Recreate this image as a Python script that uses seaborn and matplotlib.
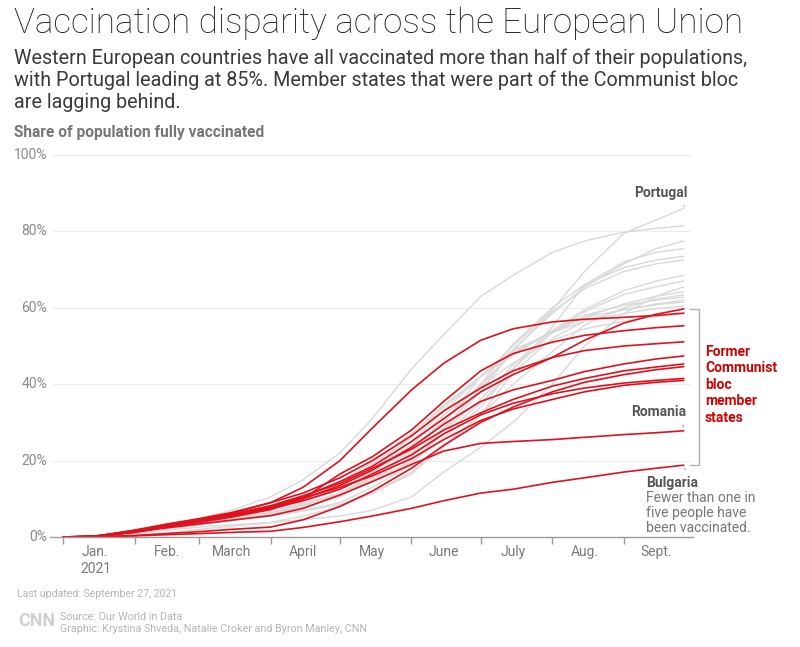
import pandas as pd
import seaborn as sns
import matplotlib.pyplot as plt
import matplotlib.dates as mdates
import matplotlib.ticker as mtick
import matplotlib.transforms as mtransforms
from matplotlib.lines import Line2D

W, H = 800, 647

# sample dates (share of population fully vaccinated, %)
dates = ["2021-01-01", "2021-01-15", "2021-02-01", "2021-02-15", "2021-03-01",
         "2021-03-15", "2021-04-01", "2021-04-15", "2021-05-01", "2021-05-15",
         "2021-06-01", "2021-06-15", "2021-07-01", "2021-07-15", "2021-08-01",
         "2021-08-15", "2021-09-01", "2021-09-15", "2021-09-27"]

# former Communist bloc member states
lithuania = [0, 0.1, 1.5, 3.0, 4.3, 5.8, 8.0, 10.5, 14.5, 18.5, 25.0, 31.0, 38.0, 42.5, 47.0, 51.5, 56.0, 58.3, 59.7]
hungary = [0, 0.2, 1.6, 3.2, 4.6, 6.2, 9.0, 13.0, 20.0, 28.5, 38.5, 45.5, 51.5, 54.5, 56.3, 57.0, 57.5, 58.0, 58.6]
czechia = [0, 0.1, 1.3, 2.6, 3.8, 5.2, 7.2, 10.0, 16.5, 21.0, 28.0, 35.5, 43.5, 48.0, 51.0, 52.8, 54.0, 54.8, 55.3]
estonia = [0, 0.2, 1.8, 3.4, 4.8, 6.4, 9.0, 11.5, 15.5, 20.0, 26.5, 33.0, 39.0, 43.5, 47.0, 48.8, 50.0, 50.6, 51.1]
poland = [0, 0.1, 1.2, 2.6, 4.0, 5.6, 7.5, 10.0, 13.5, 17.5, 23.5, 29.5, 35.5, 38.5, 41.0, 43.3, 45.3, 46.6, 47.4]
slovenia = [0, 0.2, 1.7, 3.1, 4.6, 6.0, 8.2, 10.8, 14.0, 18.0, 23.0, 28.0, 32.5, 36.0, 39.5, 41.5, 43.5, 44.5, 45.3]
latvia = [0, 0, 0.4, 0.9, 1.4, 2.0, 2.6, 4.5, 8.0, 12.0, 18.0, 24.0, 30.0, 34.0, 38.0, 40.5, 42.5, 43.8, 44.6]
croatia = [0, 0.1, 1.3, 2.7, 4.1, 5.5, 7.4, 9.5, 12.5, 16.5, 21.5, 27.0, 32.0, 35.0, 37.5, 39.0, 40.3, 41.0, 41.5]
slovakia = [0, 0.1, 1.4, 2.9, 4.3, 5.8, 7.8, 10.2, 13.0, 16.0, 20.5, 25.5, 30.5, 33.5, 36.0, 38.0, 39.7, 40.5, 41.0]
romania = [0, 0.3, 1.4, 2.4, 3.4, 4.4, 5.6, 7.5, 11.0, 14.5, 19.0, 22.5, 24.5, 25.0, 25.5, 26.1, 26.8, 27.3, 27.8]
bulgaria = [0, 0, 0.3, 0.6, 0.9, 1.2, 1.5, 2.5, 4.0, 5.5, 7.5, 9.5, 11.5, 12.5, 14.3, 15.5, 17.0, 18.0, 18.8]

# other EU member states
portugal = [0, 0.1, 1.5, 2.8, 4.2, 5.5, 7.5, 9.5, 13.0, 17.0, 23.0, 30.0, 42.0, 50.0, 59.5, 69.5, 79.5, 83.0, 86.0]
malta = [0, 0.3, 1.5, 3.2, 4.8, 7.0, 10.5, 15.0, 22.0, 31.0, 44.0, 53.0, 63.0, 68.5, 74.5, 77.5, 79.8, 80.8, 81.5]
spain = [0, 0.1, 1.2, 2.2, 3.5, 4.8, 6.5, 8.5, 11.0, 15.0, 21.0, 28.5, 39.0, 49.0, 58.5, 65.5, 71.5, 75.5, 77.5]
denmark = [0, 0.1, 1.5, 2.8, 4.0, 5.3, 6.8, 8.5, 11.0, 14.5, 20.0, 27.0, 35.0, 44.0, 55.0, 66.0, 72.0, 74.5, 75.5]
ireland = [0, 0.1, 1.0, 2.2, 3.6, 4.8, 6.0, 7.8, 10.5, 15.0, 22.0, 30.0, 40.0, 50.5, 60.0, 66.0, 70.5, 72.5, 73.5]
belgium = [0, 0, 0.8, 2.0, 3.2, 4.3, 5.5, 7.0, 9.0, 13.0, 19.0, 28.0, 38.0, 49.0, 59.0, 65.0, 69.5, 71.5, 72.5]
italy = [0, 0.1, 1.4, 2.6, 3.6, 4.6, 6.2, 8.5, 11.5, 15.5, 21.5, 28.0, 36.0, 45.0, 54.0, 59.5, 64.5, 67.0, 68.5]
france = [0, 0.1, 1.0, 2.2, 3.4, 4.4, 6.0, 8.2, 11.5, 15.0, 19.5, 26.0, 34.0, 44.0, 53.5, 59.0, 63.5, 65.5, 67.0]
finland = [0, 0, 0.8, 1.8, 2.6, 3.2, 3.8, 4.5, 5.5, 7.0, 10.5, 17.0, 23.5, 30.0, 40.0, 50.0, 58.5, 63.0, 65.5]
germany = [0, 0.1, 1.6, 3.0, 4.0, 5.0, 6.5, 9.0, 13.0, 19.0, 26.0, 34.0, 42.0, 48.5, 53.5, 57.5, 61.0, 63.0, 64.2]
sweden = [0, 0.1, 1.2, 2.8, 3.8, 4.6, 5.5, 6.8, 8.5, 11.5, 16.5, 24.0, 32.0, 40.0, 48.5, 55.5, 60.0, 62.3, 63.4]
luxembourg = [0, 0.1, 1.0, 2.4, 3.8, 5.0, 6.5, 8.5, 11.5, 16.0, 22.5, 30.5, 40.0, 48.0, 54.0, 58.0, 60.7, 62.0, 62.8]
netherlands = [0, 0, 0.3, 1.0, 2.0, 2.8, 3.8, 5.5, 8.0, 11.5, 17.0, 23.5, 32.0, 43.0, 52.0, 56.5, 59.5, 61.0, 62.0]
austria = [0, 0.1, 1.3, 2.6, 3.8, 5.0, 6.6, 9.0, 12.5, 17.5, 25.0, 33.0, 42.0, 49.0, 53.5, 56.5, 58.5, 59.8, 60.5]
cyprus = [0, 0.2, 1.5, 2.8, 4.0, 5.3, 7.5, 10.5, 14.5, 19.5, 27.0, 34.5, 42.0, 47.5, 54.0, 57.5, 59.5, 60.8, 61.5]
greece = [0, 0.2, 1.8, 3.2, 4.4, 5.6, 7.2, 9.5, 13.0, 17.5, 24.0, 32.0, 39.5, 45.5, 51.5, 54.5, 56.5, 57.7, 58.5]

former_bloc = {"Lithuania": lithuania, "Hungary": hungary, "Czechia": czechia,
               "Estonia": estonia, "Poland": poland, "Slovenia": slovenia,
               "Latvia": latvia, "Croatia": croatia, "Slovakia": slovakia,
               "Romania": romania, "Bulgaria": bulgaria}
others = {"Portugal": portugal, "Malta": malta, "Spain": spain, "Denmark": denmark,
          "Ireland": ireland, "Belgium": belgium, "Italy": italy, "France": france,
          "Finland": finland, "Germany": germany, "Sweden": sweden,
          "Luxembourg": luxembourg, "Netherlands": netherlands, "Austria": austria,
          "Cyprus": cyprus, "Greece": greece}

month_labels = ["Jan.\n2021", "Feb.", "March", "April", "May", "June", "July", "Aug.", "Sept."]
y_ticks = [0, 20, 40, 60, 80, 100]

rows = []
for group, table in (("other", others), ("former", former_bloc)):
    for country, values in table.items():
        for d, v in zip(dates, values):
            rows.append((pd.Timestamp(d), v, country, group))
df = pd.DataFrame(rows, columns=["date", "share", "country", "group"])

sns.set_theme(style="white")
plt.rcParams["font.family"] = ["Roboto", "DejaVu Sans"]

fig = plt.figure(figsize=(W / 100, H / 100), dpi=100)
ax = fig.add_axes([50 / W, 1 - 537 / H, 643 / W, 382 / H])

RED = "#e2101c"
sns.lineplot(data=df[df.group == "other"], x="date", y="share", units="country",
             estimator=None, color="#d9d9d9", lw=1.0, ax=ax, legend=False)
sns.lineplot(data=df[df.group == "former"], x="date", y="share", units="country",
             estimator=None, color=RED, lw=1.2, ax=ax, legend=False)
for ln in ax.lines:
    ln.set_clip_on(False)

ax.set_xlim(pd.Timestamp("2020-12-26 08:00"), pd.Timestamp("2021-10-01"))
ax.set_ylim(0, 100)
ax.set_xlabel("")
ax.set_ylabel("")
ax.set_yticks([])
for side in ("top", "right", "left"):
    ax.spines[side].set_visible(False)
ax.spines["bottom"].set_color("#9a9a9a")
ax.spines["bottom"].set_linewidth(1.0)

ax.xaxis.set_major_locator(mdates.MonthLocator(bymonth=range(1, 10)))
ax.xaxis.set_major_formatter(mtick.NullFormatter())
ax.xaxis.set_minor_locator(mdates.MonthLocator(bymonth=range(1, 10), bymonthday=15))
ax.xaxis.set_minor_formatter(mtick.FuncFormatter(
    lambda x, pos: month_labels[mdates.num2date(x).month - 1]))
ax.tick_params(axis="x", which="major", bottom=True, length=5, width=1,
               color="#9a9a9a", direction="out")
ax.tick_params(axis="x", which="minor", bottom=True, length=0, pad=6,
               labelsize=10, labelcolor="#7a7a7a")

trans = mtransforms.blended_transform_factory(fig.transFigure, ax.transData)
for v in y_ticks:
    if v > 0:
        ax.axhline(v, xmin=3 / 643, xmax=640 / 643, color="#ededed", lw=0.8, zorder=0)
    ax.text(47 / W, v, f"{v}%", transform=trans, ha="right", va="center",
            color="#8a8a8a", fontsize=10)

# annotations
end = pd.Timestamp(dates[-1])
arrow = dict(arrowstyle="-", color="#aaaaaa", lw=0.8,
             connectionstyle="arc3,rad=-0.5", shrinkA=2, shrinkB=1)
ax.annotate("Portugal", xy=(end, portugal[-1] + 0.5), xytext=(661, H - 193),
            textcoords="figure pixels", ha="center", va="center", fontsize=10,
            fontweight="bold", color="#555555", arrowprops=arrow)
ax.annotate("Romania", xy=(end, romania[-1] + 0.5), xytext=(659, H - 412),
            textcoords="figure pixels", ha="center", va="center", fontsize=10,
            fontweight="bold", color="#555555", arrowprops=arrow)
ax.annotate("Bulgaria", xy=(end, bulgaria[-1] - 0.5), xytext=(646, H - 483),
            textcoords="figure pixels", ha="left", va="center", fontsize=10,
            fontweight="bold", color="#555555",
            arrowprops=dict(arrowstyle="-", color="#aaaaaa", lw=0.8,
                            connectionstyle="arc3,rad=0.5", shrinkA=2, shrinkB=1,
                            relpos=(0.7, 1.0)))
fig.text(646 / W, 1 - 491 / H, "Fewer than one in\nfive people have\nbeen vaccinated.",
         ha="left", va="top", fontsize=10, color="#777777", linespacing=1.1)

fig.text(705 / W, 1 - 345 / H, "Former\nCommunist\nbloc\nmember\nstates",
         ha="left", va="top", fontsize=10, fontweight="bold", color="#d40000",
         linespacing=1.22)
bx = [690, 699, 699, 690]
by = [309, 309, 465, 465]
fig.add_artist(Line2D([x / W for x in bx], [1 - y / H for y in by],
                      transform=fig.transFigure, color="#b0b0b0", lw=1.0))

# header and footer text, sized to match their widths
renderer = fig.canvas.get_renderer()


def fit(t, px):
    w = t.get_window_extent(renderer).width
    t.set_fontsize(t.get_fontsize() * px / w)
    return t.get_fontsize()


title = fig.text(14 / W, 1 - 23 / H, "Vaccination disparity across the European Union",
                 ha="left", va="center", fontsize=24, fontweight="light", color="#222222")
fit(title, 729)

sub_lines = ["Western European countries have all vaccinated more than half of their populations,",
             "with Portugal leading at 85%. Member states that were part of the Communist bloc",
             "are lagging behind."]
subs = [fig.text(14 / W, 1 - y / H, s, ha="left", va="center", fontsize=13, color="#3a3a3a")
        for s, y in zip(sub_lines, (58, 80, 102))]
size = fit(subs[0], 734)
for s in subs[1:]:
    s.set_fontsize(size)

lab = fig.text(14 / W, 1 - 133 / H, "Share of population fully vaccinated",
               ha="left", va="center", fontsize=10, fontweight="bold", color="#777777")
fit(lab, 252)

upd = fig.text(17 / W, 1 - 594 / H, "Last updated: September 27, 2021",
               ha="left", va="center", fontsize=8, color="#b5b5b5")
fit(upd, 161)
fig.text(18 / W, 1 - 621 / H, "CNN", ha="left", va="center", fontsize=13,
         fontweight="bold", color="#d0d0d0")
src = fig.text(60 / W, 1 - 617 / H, "Source: Our World in Data",
               ha="left", va="center", fontsize=8, color="#b5b5b5")
fit(src, 123)
gr = fig.text(60 / W, 1 - 629 / H, "Graphic: Krystina Shveda, Natalie Croker and Byron Manley, CNN",
              ha="left", va="center", fontsize=8, color="#b5b5b5")
fit(gr, 307)

fig.savefig("out.png", dpi=100, facecolor="white")
